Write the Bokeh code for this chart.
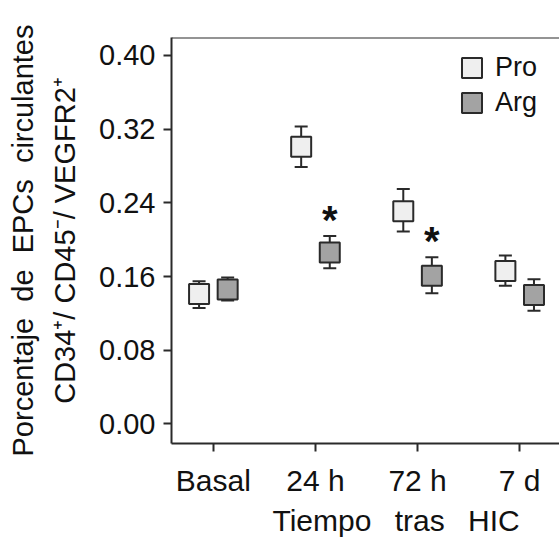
import numpy as np
from bokeh.plotting import figure
from bokeh.models import (ColumnDataSource, Range1d, FixedTicker, NumeralTickFormatter,
                          Whisker, TeeHead, Legend, LegendItem, Title, Span, LinearAxis)
from bokeh.transform import dodge
from bokeh.embed import file_html
from bokeh.resources import INLINE
from bokeh.core.properties import value

# ---- data ----
categories = ["Basal", "24 h", "72 h", "7 d"]
pro_mean = [0.141, 0.301, 0.231, 0.166]
pro_upper = [0.155, 0.323, 0.255, 0.183]
pro_lower = [0.126, 0.279, 0.209, 0.150]
arg_mean = [0.146, 0.186, 0.161, 0.140]
arg_upper = [0.159, 0.204, 0.181, 0.157]
arg_lower = [0.134, 0.169, 0.142, 0.123]
significant = [False, True, True, False]
y_ticks = [0.00, 0.08, 0.16, 0.24, 0.32, 0.40]
series_names = ["Pro", "Arg"]
x_title_text = "Tiempo \u2002tras \u2002HIC"
x_title_pos = 1.79   # horizontal centre of the x title, in category units

FONT = "Liberation Sans"
TXT = "#111111"
LINE = "#2a2a2a"
PRO_FILL = "#efefef"
ARG_FILL = "#a3a3a3"
OFF = 0.14

xs = list(range(len(categories)))
src = ColumnDataSource(dict(x=xs, pro=pro_mean, pro_up=pro_upper, pro_lo=pro_lower,
                            arg=arg_mean, arg_up=arg_upper, arg_lo=arg_lower))
sig_src = ColumnDataSource(dict(
    x=[xs[i] for i in range(len(xs)) if significant[i]],
    y=[arg_upper[i] for i in range(len(xs)) if significant[i]],
    t=["*" for i in range(len(xs)) if significant[i]]))

p = figure(width=559, height=540, x_range=Range1d(-0.41, 3.39),
           y_range=Range1d(-0.0212, 0.4195), output_backend="svg",
           toolbar_location=None, min_border_left=171, min_border_right=0,
           min_border_top=37, min_border_bottom=97)
p.outline_line_color = None
p.grid.visible = False

# top frame line
p.add_layout(Span(location=p.y_range.end, dimension="width", line_color=LINE, line_width=2))

for ax in (p.xaxis[0], p.yaxis[0]):
    ax.axis_line_color = LINE
    ax.axis_line_width = 2
    ax.major_tick_line_color = LINE
    ax.major_tick_line_width = 2
    ax.major_tick_out = 8
    ax.major_tick_in = 0
    ax.minor_tick_line_color = None
    ax.major_label_text_font = FONT
    ax.major_label_text_color = TXT

p.xaxis.ticker = FixedTicker(ticks=xs)
p.xaxis.major_label_overrides = {i: c for i, c in enumerate(categories)}
p.xaxis.major_label_standoff = 12
p.xaxis.major_label_text_font_size = "30px"
p.yaxis.ticker = FixedTicker(ticks=y_ticks)
p.yaxis.formatter = NumeralTickFormatter(format="0.00")
p.yaxis.major_label_standoff = 8
p.yaxis.major_label_text_font_size = "29px"

# x-axis title as a tick-less secondary axis (lets it sit off-centre)
title_axis = LinearAxis(ticker=FixedTicker(ticks=[x_title_pos]),
                        major_label_overrides={x_title_pos: x_title_text},
                        axis_line_color=None, major_tick_line_color=None,
                        major_tick_out=0, major_tick_in=0, minor_tick_line_color=None,
                        major_label_standoff=4, major_label_text_font=FONT,
                        major_label_text_font_size="30px", major_label_text_color=TXT)
p.add_layout(title_axis, "below")

# whiskers
for col, off in (("pro", -OFF), ("arg", OFF)):
    w = Whisker(source=src, base=dodge("x", off), upper=col + "_up", lower=col + "_lo",
                dimension="height", line_color=LINE, line_width=2, level="underlay",
                upper_head=TeeHead(size=13, line_color=LINE, line_width=2),
                lower_head=TeeHead(size=13, line_color=LINE, line_width=2))
    p.add_layout(w)

r_pro = p.scatter(x=dodge("x", -OFF), y="pro", source=src, marker="square", size=20,
                  fill_color=PRO_FILL, line_color=LINE, line_width=2)
r_arg = p.scatter(x=dodge("x", OFF), y="arg", source=src, marker="square", size=20,
                  fill_color=ARG_FILL, line_color=LINE, line_width=2)

p.text(x=dodge("x", OFF), y="y", text="t", source=sig_src, text_font=value(FONT),
       text_font_size="40px", text_font_style="bold", text_align="center",
       text_baseline="alphabetic", text_color=TXT, y_offset=-16)

# legend proxies (never visible in the plot area)
nan = [float("nan")]
lg_pro = p.quad(left=nan, right=nan, top=nan, bottom=nan, fill_color=PRO_FILL,
                line_color=LINE, line_width=2)
lg_arg = p.quad(left=nan, right=nan, top=nan, bottom=nan, fill_color=ARG_FILL,
                line_color=LINE, line_width=2)
legend = Legend(items=[LegendItem(label=series_names[0], renderers=[lg_pro]),
                       LegendItem(label=series_names[1], renderers=[lg_arg])],
                location="top_right", border_line_color=None, background_fill_alpha=0,
                label_text_font=FONT, label_text_font_size="27px", label_text_color=TXT,
                glyph_width=25, glyph_height=25, label_standoff=11, label_width=49,
                spacing=4, padding=0, margin=15)
p.add_layout(legend)

# y-axis titles (two lines)
t_line2 = Title(text="CD34\u207a/ CD45\u207b/ VEGFR2\u207a", align="center", text_font=FONT,
                text_font_size="29px", text_font_style="normal", text_color=TXT, standoff=32)
t_line1 = Title(text="Porcentaje \u00a0de \u00a0EPCs \u00a0circulantes", align="center",
                text_font=FONT, text_font_size="29px", text_font_style="normal",
                text_color=TXT, standoff=-16)
p.add_layout(t_line2, "left")
p.add_layout(t_line1, "left")

open("out.html", "w").write(file_html(p, INLINE))
